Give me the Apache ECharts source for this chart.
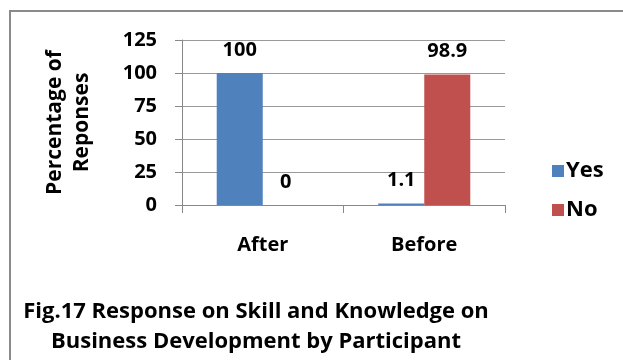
<!DOCTYPE html>
<html>
<head>
<meta charset="utf-8">
<script src="https://cdn.jsdelivr.net/npm/echarts@6/dist/echarts.min.js"></script>
<style>
  html, body { margin: 0; padding: 0; background: #fff; }
  #chart { width: 623px; height: 360px; }
</style>
</head>
<body>
<div id="chart"></div>
<script>
// Survey answers before and after the programme
const categories = ['After', 'Before'];
const yesValues = [100, 1.1];
const noValues = [0, 98.9];
const yTicks = [0, 25, 50, 75, 100, 125];

const FONT = '"Open Sans"';
const chart = echarts.init(document.getElementById('chart'));

const labelStyle = {
  show: true,
  position: 'top',
  distance: 13,
  color: '#000',
  fontFamily: FONT,
  fontWeight: 'bold',
  fontSize: 20
};

chart.setOption({
  animation: false,
  backgroundColor: '#fff',
  grid: { left: 182, right: 118, top: 40, bottom: 155, containLabel: false },
  legend: {
    orient: 'vertical',
    left: 547,
    top: 155,
    itemWidth: 12,
    itemHeight: 12,
    itemGap: 17,
    icon: 'rect',
    textStyle: { fontFamily: FONT, fontWeight: 'bold', fontSize: 22, color: '#000', padding: [0, 0, 0, -3] },
    data: ['Yes', 'No']
  },
  xAxis: {
    type: 'category',
    data: categories,
    axisLine: { lineStyle: { color: '#888', width: 1 } },
    axisTick: { show: true, length: 8, lineStyle: { color: '#888' } },
    axisLabel: { margin: 30, color: '#000', fontFamily: FONT, fontWeight: 'bold', fontSize: 20 }
  },
  yAxis: {
    type: 'value',
    min: yTicks[0],
    max: yTicks[yTicks.length - 1],
    interval: 25,
    name: 'Percentage of\nReponses',
    nameLocation: 'middle',
    nameRotate: 90,
    nameGap: 86,
    nameTextStyle: { fontFamily: FONT, fontWeight: 'bold', fontSize: 21, color: '#000', lineHeight: 27 },
    axisLine: { show: true, lineStyle: { color: '#888' } },
    axisTick: { show: true, length: 7, lineStyle: { color: '#888' } },
    splitLine: { lineStyle: { color: '#999' } },
    axisLabel: { margin: 25, color: '#000', fontFamily: FONT, fontWeight: 'bold', fontSize: 20 }
  },
  series: [
    {
      name: 'Yes',
      type: 'bar',
      data: yesValues,
      barGap: '0%',
      barCategoryGap: '43%',
      itemStyle: { color: '#4F81BD' },
      label: labelStyle
    },
    {
      name: 'No',
      type: 'bar',
      data: noValues,
      itemStyle: { color: '#C0504D' },
      label: labelStyle
    }
  ],
  graphic: [
    {
      type: 'rect',
      shape: { x: 10, y: 11, width: 700, height: 500 },
      style: { fill: 'none', stroke: '#8a8a8a', lineWidth: 2 },
      silent: true
    },
    {
      type: 'text',
      style: {
        text: 'Fig.17 Response on Skill and Knowledge on\nBusiness Development by Participant',
        x: 256,
        y: 297,
        textAlign: 'center',
        fontFamily: FONT,
        fontWeight: 'bold',
        fontSize: 22,
        lineHeight: 30,
        fill: '#000'
      }
    }
  ]
});
</script>
</body>
</html>
